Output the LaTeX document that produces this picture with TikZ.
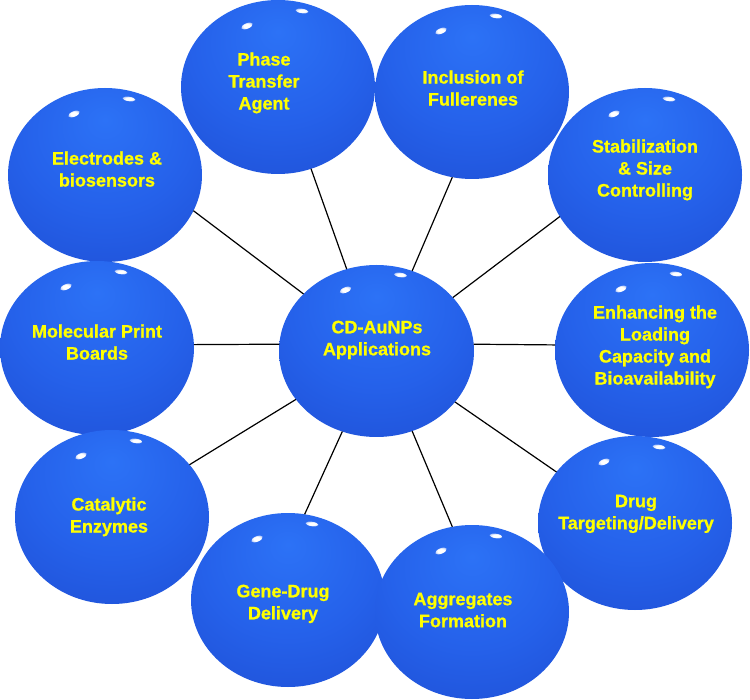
\documentclass[tikz,border=0pt]{standalone}
\usepackage{fontspec}
\setmainfont{Liberation Sans}[BoldFeatures={FakeBold=0.8}]
\usetikzlibrary{shapes.geometric}
\definecolor{bla}{RGB}{44,114,246}
\definecolor{blb}{RGB}{37,97,234}
\definecolor{blc}{RGB}{31,80,214}
\definecolor{bld}{RGB}{25,62,186}
\definecolor{txtyellow}{RGB}{255,255,0}
\pgfdeclareradialshading{ballblue}{\pgfpoint{0bp}{16bp}}{color(0bp)=(bla); color(22bp)=(blb); color(42bp)=(blc); color(62bp)=(bld); color(80bp)=(bld)}
\pgfdeclareradialshading{glintshade}{\pgfpoint{0bp}{0bp}}{color(0bp)=(white); color(14bp)=(white); color(50bp)=(blb); color(70bp)=(blb)}
\tikzset{
  ball/.style={ellipse, minimum width=194pt, minimum height=174pt, inner sep=0pt, outer sep=0pt, shade, shading=ballblue},
  lbl/.style={text=txtyellow, font=\fontsize{18}{22}\selectfont\bfseries, align=center, text depth=0pt, inner sep=0pt},
  glint/.style={ellipse, minimum width=12pt, minimum height=5.5pt, inner sep=0pt, shade, shading=glintshade},
  conn/.style={line width=1.2pt, black}
}
\begin{document}
\begin{tikzpicture}[x=1pt,y=-1pt]
\fill[white] (0,0) rectangle (750,700);
\useasboundingbox (0,0) rectangle (750,700);
% center ball
\node[ball, minimum width=195pt, minimum height=172pt] (C) at (376.5,351) {};
\node[glint, rotate=22] at (345.5,290) {};
\node[glint, rotate=-8, minimum width=13pt, minimum height=4.5pt] at (400.5,275) {};
% outer balls
\foreach \n/\px/\py in {E/105/175, P/278/87, I/472/92, S/645/175, H/652/350, M/97/348, K/112/517, G/288/600, D/635/523, A/472/612}{
  \node[ball] (\n) at (\px,\py) {};
  \node[glint, rotate=22] at (\px-31,\py-61) {};
  \node[glint, rotate=-8, minimum width=13pt, minimum height=4.5pt] at (\px+24,\py-76) {};
}
% labels
\node[lbl] (tC) at (377,338) {CD-AuNPs\\Applications};
\node[lbl] (tE) at (107,169) {Electrodes \&\\biosensors};
\node[lbl] (tP) at (264,81) {Phase\\Transfer\\Agent};
\node[lbl] (tI) at (473,88) {Inclusion of\\Fullerenes};
\node[lbl] (tS) at (645,168) {Stabilization\\\& Size\\Controlling};
\node[lbl] (tH) at (655,345) {Enhancing the\\Loading\\Capacity and\\Bioavailability};
\node[lbl] (tD) at (636,512) {Drug\\Targeting/Delivery};
\node[lbl] (tA) at (463,610) {Aggregates\\Formation};
\node[lbl] (tG) at (283,602) {Gene-Drug\\Delivery};
\node[lbl] (tK) at (109,515) {Catalytic\\Enzymes};
\node[lbl] (tM) at (97,342) {Molecular Print\\Boards};
% connectors
\draw[conn] (C.142) -- (E.-22);
\draw[conn] (C.110) -- (P.-68);
\draw[conn] (C.66) -- (I.-103);
\draw[conn] (C.35) -- (S.206);
\draw[conn] (C.4) -- (H.177);
\draw[conn] (C.-33) -- (D.147);
\draw[conn] (C.-66) -- (A.103);
\draw[conn] (C.-113) -- (G.79);
\draw[conn] (C.211) -- (K.34);
\draw[conn] (C.176) -- (M.2);
\end{tikzpicture}
\end{document}
